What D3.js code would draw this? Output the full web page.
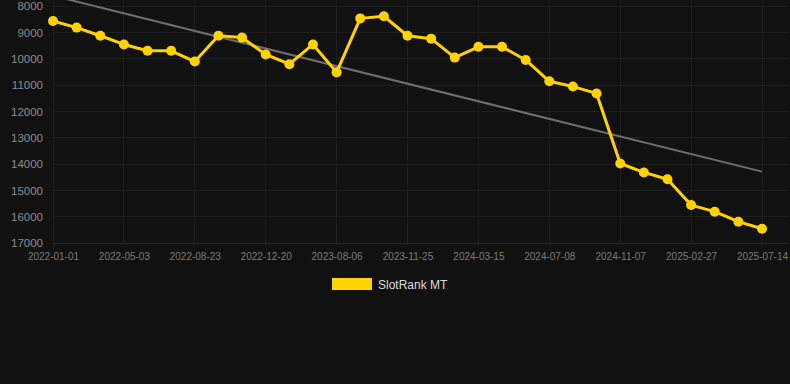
<!DOCTYPE html>
<html>
<head>
<meta charset="utf-8">
<script src="https://cdn.jsdelivr.net/npm/d3@7"></script>
<style>
  html, body { margin: 0; padding: 0; background: #111111; }
  svg { display: block; }
</style>
</head>
<body>
<svg id="chart" width="790" height="384"></svg>
<script>
const dates = [
  "2022-01-01", "2022-02-10", "2022-03-23", "2022-05-03", "2022-06-09", "2022-07-16",
  "2022-08-23", "2022-10-01", "2022-11-10", "2022-12-20", "2023-03-05", "2023-05-20",
  "2023-08-06", "2023-09-12", "2023-10-19", "2023-11-25", "2024-01-01", "2024-02-07",
  "2024-03-15", "2024-04-22", "2024-05-31", "2024-07-08", "2024-08-18", "2024-09-28",
  "2024-11-07", "2024-12-14", "2025-01-20", "2025-02-27", "2025-04-13", "2025-05-29",
  "2025-07-14"
];
const rankValues = [
  8570, 8820, 9130, 9460, 9700, 9700, 10110, 9130, 9200, 9840, 10210, 9460, 10520,
  8470, 8390, 9130, 9240, 9960, 9550, 9550, 10050, 10860, 11060, 11320,
  13980, 14320, 14580, 15560, 15810, 16190, 16460
];
const trendValues = [7610, 14290];
const yTicks = [8000, 9000, 10000, 11000, 12000, 13000, 14000, 15000, 16000, 17000];
const seriesName = "SlotRank MT";

(function () {
const svg = d3.select("#chart");
const W = 790, H = 384;
const pLeft = 53, pRight = 762, pTop = 6, pBottom = 243;

svg.append("rect").attr("width", W).attr("height", H).attr("fill", "#111111");

const step = (pRight - pLeft) / (dates.length - 1);
const x = d3.scalePoint().domain(dates).range([pLeft, pRight]);
const y = d3.scaleLinear().domain([8000, 17000]).range([pTop, pBottom]);

const labelDates = dates.filter((d, i) => i % 3 === 0);

// horizontal grid
svg.append("g").selectAll("line").data(yTicks).join("line")
  .attr("x1", pLeft).attr("x2", pRight + step + 1)
  .attr("y1", d => y(d)).attr("y2", d => y(d))
  .attr("stroke", d => d === 17000 ? "#282828" : "#1e1e1e").attr("stroke-width", 1)
  .attr("shape-rendering", "crispEdges");

// vertical grid
svg.append("g").selectAll("line").data(labelDates).join("line")
  .attr("x1", d => x(d)).attr("x2", d => x(d))
  .attr("y1", 0).attr("y2", pBottom)
  .attr("stroke", "#1e1e1e").attr("stroke-width", 1)
  .attr("shape-rendering", "crispEdges");

// small tick under first category
svg.append("line")
  .attr("x1", x(dates[0])).attr("x2", x(dates[0]))
  .attr("y1", pBottom).attr("y2", pBottom + 6)
  .attr("stroke", "#222222").attr("shape-rendering", "crispEdges");

// y axis labels
const yAxis = d3.axisLeft(y).tickValues(yTicks).tickSize(0).tickPadding(0).tickFormat(d3.format("d"));
const gy = svg.append("g").attr("transform", "translate(43,0)").call(yAxis);
gy.select(".domain").remove();
gy.selectAll("text").attr("fill", "#8c8c8c").attr("font-family", "Liberation Sans, Arial, sans-serif").attr("font-size", "11.5px");

// x axis labels
const xAxis = d3.axisBottom(x).tickValues(labelDates).tickSize(0).tickPadding(0);
const gx = svg.append("g").attr("transform", `translate(0,${pBottom + 10})`).call(xAxis);
gx.select(".domain").remove();
gx.selectAll("text").attr("fill", "#7a7a7a").attr("font-family", "Liberation Sans, Arial, sans-serif").attr("font-size", "10px").attr("dy", "0.71em");

// trend line
svg.append("line")
  .attr("x1", x(dates[0])).attr("y1", y(trendValues[0]))
  .attr("x2", x(dates[dates.length - 1])).attr("y2", y(trendValues[1]))
  .attr("stroke", "#6e6e6e").attr("stroke-width", 2);

// series line
const line = d3.line().x((d, i) => x(dates[i])).y(d => y(d));
svg.append("path").datum(rankValues)
  .attr("d", line).attr("fill", "none")
  .attr("stroke", "#FFD200").attr("stroke-width", 3).attr("stroke-linejoin", "round");

svg.append("g").selectAll("circle").data(rankValues).join("circle")
  .attr("cx", (d, i) => x(dates[i])).attr("cy", d => y(d)).attr("r", 5)
  .attr("fill", "#FFD200");

// legend
svg.append("rect").attr("x", 332).attr("y", 278).attr("width", 40).attr("height", 12).attr("fill", "#FFD200");
svg.append("text").attr("x", 378).attr("y", 285).attr("dy", "0.35em")
  .attr("fill", "#dddddd").attr("font-family", "Liberation Sans, Arial, sans-serif").attr("font-size", "12px")
  .text(seriesName);
})();
</script>
</body>
</html>
